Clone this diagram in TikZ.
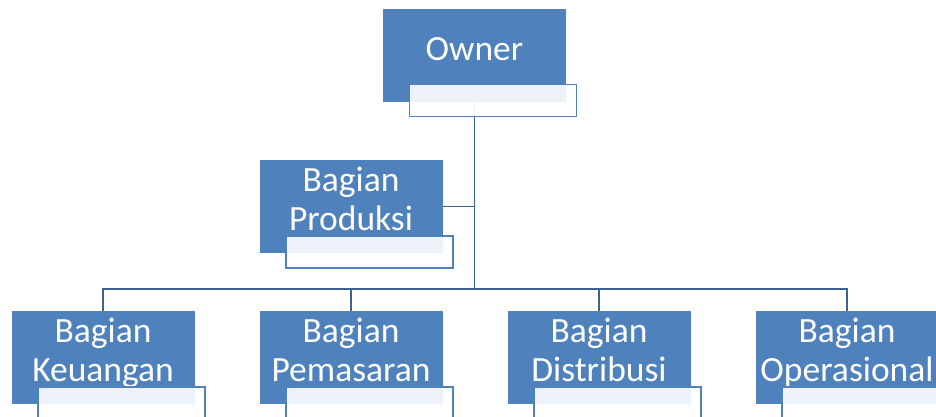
\documentclass[tikz,border=0pt]{standalone}
\usepackage{fontspec}
\setmainfont{Carlito}
\usetikzlibrary{positioning,calc}
\definecolor{boxblue}{RGB}{79,129,189}
\definecolor{linkblue}{RGB}{58,98,146}
\tikzset{
unit/.style={fill=boxblue,text=white,minimum width=183pt,minimum height=93pt,inner sep=0pt,
font=\fontsize{35.5}{39}\selectfont,align=center,text depth=15pt},
tag/.style={draw=boxblue,line width=1.6pt,fill=white,fill opacity=0.9,minimum width=167pt,minimum height=32pt,
inner sep=0pt,anchor=north west},
link/.style={draw=linkblue,line width=1.7pt}
}

\begin{document}
\begin{tikzpicture}[x=1pt,y=-1pt]
\clip (0,0) rectangle (936,416);
\useasboundingbox (0,0) rectangle (936,416);
% boxes
\node[unit,text depth=12pt] (owner) at (474.5,55) {Owner};
\node[unit] (produksi) at (351,206.5) {Bagian\\Produksi};
\node[unit] (keuangan) at (103,357.5) {Bagian\\Keuangan};
\node[unit] (pemasaran) at (351,357.5) {Bagian\\Pemasaran};
\node[unit] (distribusi) at (599,357.5) {Bagian\\Distribusi};
\node[unit] (operasional) at (847,357.5) {Bagian\\Operasional};
% connectors
\coordinate (bus) at (474.5,289);
\draw[link] (owner.south) -- (bus);
\draw[link] (produksi.east) -- (produksi.east -| bus);
\foreach \n in {keuangan,pemasaran,distribusi,operasional}
\draw[link] (bus) -| (\n.north);
% tags
\foreach \n in {owner,produksi,keuangan,pemasaran,distribusi,operasional}
\node[tag] (\n-tag) at ([xshift=26pt,yshift=18pt]\n.south west) {};
\end{tikzpicture}
\end{document}
